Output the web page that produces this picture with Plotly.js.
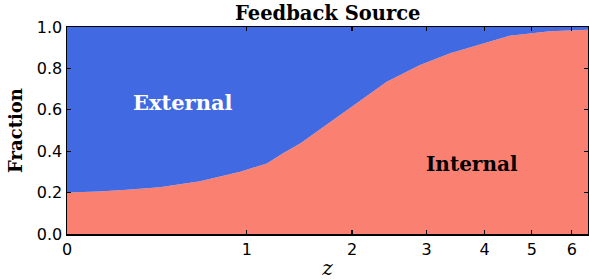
<!DOCTYPE html>
<html>
<head>
<meta charset="utf-8">
<script src="https://cdn.plot.ly/plotly-3.0.1.min.js"></script>
<style>html,body{margin:0;padding:0;background:#fff;}#chart{width:589px;height:280px;}</style>
</head>
<body>
<div id="chart"></div>
<script>
// Redshift samples
const redshift = [0, 0.13, 0.26, 0.43, 0.67, 0.95, 1.16, 1.30, 1.46, 1.62, 1.79, 2.02, 2.43, 2.90, 3.38, 4.51, 5.43, 6.45];
// Fraction of feedback from internal sources
const internalFrac = [0.200, 0.205, 0.214, 0.226, 0.255, 0.301, 0.341, 0.390, 0.438, 0.494, 0.551, 0.623, 0.736, 0.816, 0.873, 0.958, 0.979, 0.987];
// Fraction from external sources (complement)
const externalFrac = internalFrac.map(v => 1 - v);
const zTickVals = [0, 1, 2, 3, 4, 5, 6];
const zTickText = ['0', '1', '2', '3', '4', '5', '6'];
const yTickVals = [0, 0.2, 0.4, 0.6, 0.8, 1.0];
const yTickText = ['0.0', '0.2', '0.4', '0.6', '0.8', '1.0'];

const onePlusZ = redshift.map(v => 1 + v);

const traces = [
  {x: onePlusZ, y: internalFrac, type: 'scatter', mode: 'lines', stackgroup: 'one',
   line: {width: 0, color: '#FA8072'}, fillcolor: '#FA8072', name: 'Internal', hoverinfo: 'skip'},
  {x: onePlusZ, y: externalFrac, type: 'scatter', mode: 'lines', stackgroup: 'one',
   line: {width: 0, color: '#4169E1'}, fillcolor: '#4169E1', name: 'External', hoverinfo: 'skip'}
];

const serif = '"DejaVu Serif", "Liberation Serif", serif';
const sans = '"DejaVu Sans", "Liberation Sans", Arial, sans-serif';

const layout = {
  width: 589, height: 280,
  margin: {l: 67, r: 1, t: 27, b: 46},
  paper_bgcolor: '#ffffff', plot_bgcolor: '#ffffff',
  showlegend: false,
  xaxis: {
    type: 'log', range: [0, Math.log10(7.45)],
    tickvals: zTickVals.map(v => 1 + v), ticktext: zTickText,
    ticks: 'inside', ticklen: 4, tickwidth: 1.2, tickcolor: '#000',
    showline: true, linecolor: '#000', linewidth: 1.5, mirror: 'ticks',
    showgrid: false, zeroline: false,
    tickfont: {family: sans, size: 16, color: '#000'},
    title: {text: '<i>z</i>', font: {family: serif, size: 20, color: '#000'}, standoff: 5}
  },
  yaxis: {
    range: [0, 1], tickvals: yTickVals, ticktext: yTickText,
    ticks: 'inside', ticklen: 4, tickwidth: 1.2, tickcolor: '#000',
    showline: true, linecolor: '#000', linewidth: 1.5, mirror: 'ticks',
    showgrid: false, zeroline: false,
    tickfont: {family: sans, size: 16, color: '#000'},
    title: {text: '<b>Fraction</b>', font: {family: serif, size: 18, color: '#000'}, standoff: 9}
  },
  annotations: [
    {text: '<b>Feedback Source</b>', xref: 'paper', yref: 'paper', x: 0.5, y: 1 + 13/207,
     xanchor: 'center', yanchor: 'middle', showarrow: false,
     font: {family: serif, size: 19.5, color: '#000'}},
    {text: '<b>External</b>', xref: 'paper', yref: 'paper', x: 0.222, y: 0.633, xanchor: 'center', yanchor: 'middle',
     showarrow: false, font: {family: serif, size: 21, color: '#ffffff'}},
    {text: '<b>Internal</b>', xref: 'paper', yref: 'paper', x: 0.778, y: 0.337, xanchor: 'center', yanchor: 'middle',
     showarrow: false, font: {family: serif, size: 20, color: '#000000'}}
  ]
};

Plotly.newPlot('chart', traces, layout, {displayModeBar: false, staticPlot: true});
</script>
</body>
</html>
